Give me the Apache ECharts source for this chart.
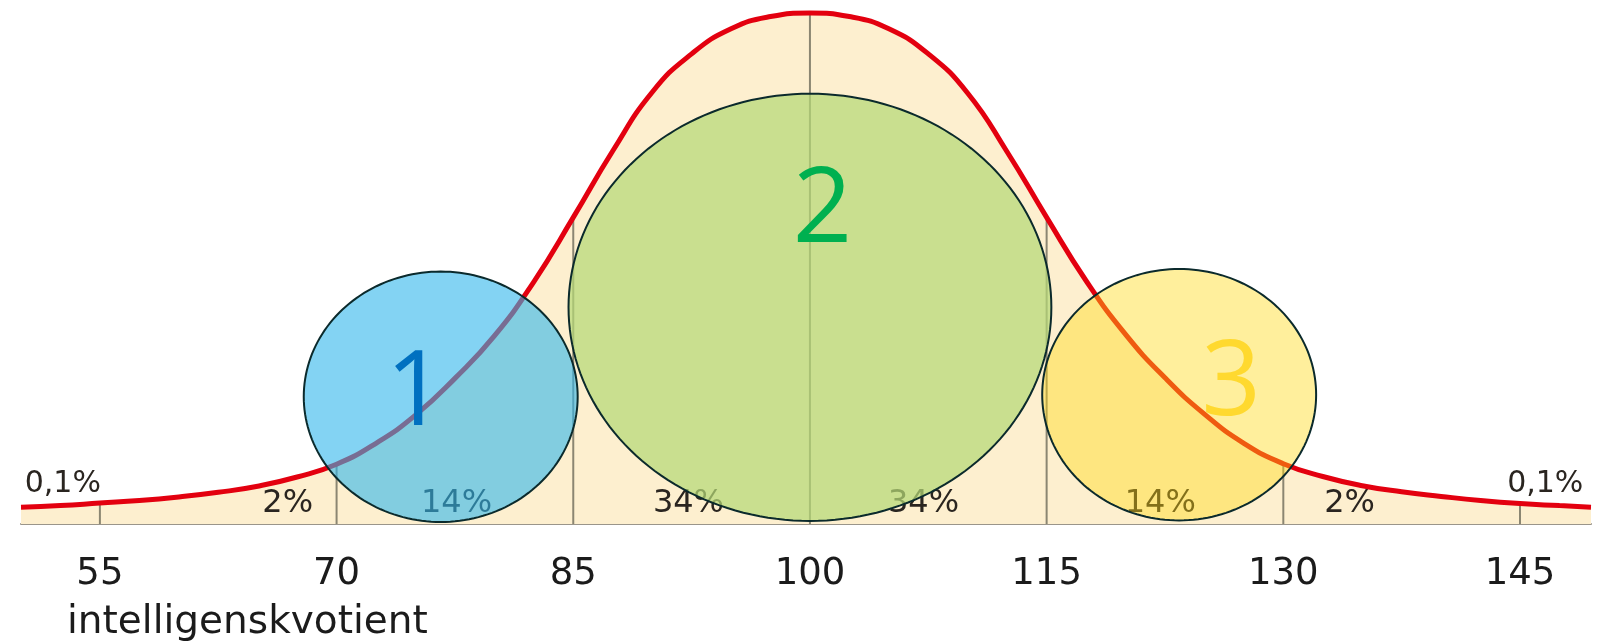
<!DOCTYPE html>
<html>
<head>
<meta charset="utf-8">
<script src="https://cdn.jsdelivr.net/npm/echarts@6/dist/echarts.min.js"></script>
<style>
html,body{margin:0;padding:0;background:#fff;}
#chart{width:1610px;height:641px;}
</style>
</head>
<body>
<div id="chart"></div>
<script>
// IQ values (x) and curve height relative to the peak (%)
const curveX = [50, 52.5, 55, 57.5, 60, 62.5, 65, 67.5, 70, 72.5, 75, 77.5, 80, 82.5, 85, 87.5, 90, 92.5, 95, 97.5, 100,
  102.5, 105, 107.5, 110, 112.5, 115, 117.5, 120, 122.5, 125, 127.5, 130, 132.5, 135, 137.5, 140, 142.5, 145, 147.5, 149.5];
const curveY = [3.3, 3.6, 4.1, 4.6, 5.3, 6.2, 7.4, 9.2, 11.7, 15.8, 21.3, 28.5, 36.8, 47.4, 60.0, 73.0, 84.5, 92.0, 96.9, 99.3, 100,
  99.3, 96.9, 92.0, 84.3, 72.8, 60.0, 47.6, 37.1, 28.6, 21.5, 15.8, 11.8, 9.3, 7.5, 6.3, 5.4, 4.6, 4.0, 3.6, 3.3];

// axis tick labels
const tickValues = [55, 70, 85, 100, 115, 130, 145];

// share of population per band
const bandLabels = ['0,1%', '2%', '14%', '34%', '34%', '14%', '2%', '0,1%'];
const bandLabelX = [52.65, 66.9, 77.6, 92.3, 107.2, 122.2, 134.2, 146.6];
const bandLabelY = [7.8, 3.9, 3.9, 3.9, 3.9, 3.9, 3.9, 7.8];

// highlighted groups (ellipses): centre and radii in data units
const groupNames = ['1', '2', '3'];
const groupCX = [76.6, 100, 123.4];
const groupCY = [24.9, 42.4, 25.3];
const groupRX = [8.68, 15.3, 8.68];
const groupRY = [24.5, 41.8, 24.6];
const groupLabelX = [75.0, 100.8, 126.7];
const groupLabelY = [25.2, 61.0, 27.2];

const axisTitle = 'intelligenskvotient';

// ---- build ----
const curveData = curveX.map((x, i) => [x, curveY[i]]);
function curveAt(x) {
  const i = curveX.indexOf(x);
  return i >= 0 ? curveY[i] : 0;
}
const tickLineData = tickValues.map(v => [v, curveAt(v)]);
const bandData = bandLabels.map((t, i) => [bandLabelX[i], bandLabelY[i], t]);
const groupData = groupNames.map((n, i) => [groupCX[i], groupCY[i], groupRX[i], groupRY[i]]);
const groupLabelData = groupNames.map((n, i) => [groupLabelX[i], groupLabelY[i], n]);

const ellipseFill = ['rgba(48,181,235,0.6)', 'rgba(180,216,118,0.72)', 'rgba(255,218,20,0.42)'];
const numberColor = ['#0070C0', '#00B050', '#FFD92F'];

const chart = echarts.init(document.getElementById('chart'), null, {renderer: 'canvas'});
chart.setOption({
  animation: false,
  backgroundColor: '#ffffff',
  title: {
    text: axisTitle,
    left: 67,
    top: 603,
    padding: 0,
    textStyle: {fontFamily: 'DejaVu Sans', fontSize: 39, fontWeight: 'normal', color: '#1b1b1b'}
  },
  grid: {left: 21, right: 19, top: 13, bottom: 117, outerBoundsMode: 'none'},
  xAxis: {
    type: 'value', min: 50, max: 149.5,
    axisLine: {show: true, onZero: false, lineStyle: {color: '#9a958a', width: 2}},
    axisTick: {show: false},
    splitLine: {show: false},
    axisLabel: {
      customValues: tickValues,
      margin: 32,
      fontFamily: 'DejaVu Sans', fontSize: 37, color: '#1b1b1b'
    }
  },
  yAxis: {type: 'value', min: 0, max: 100, show: false},
  series: [
    {
      type: 'line', data: curveData, smooth: 0.5, symbol: 'none', z: 1,
      lineStyle: {width: 0}, areaStyle: {color: '#FDEFCF', opacity: 1}, silent: true
    },
    {
      type: 'custom', z: 2, data: tickLineData, silent: true,
      renderItem: function (params, api) {
        const p0 = api.coord([api.value(0), 0]);
        const p1 = api.coord([api.value(0), api.value(1)]);
        return {type: 'line', shape: {x1: p0[0], y1: p0[1], x2: p1[0], y2: p1[1]},
          style: {stroke: '#8b8672', lineWidth: 2}};
      }
    },
    {
      type: 'custom', z: 3, data: bandData, silent: true,
      encode: {x: 0, y: 1},
      renderItem: function (params, api) {
        const p = api.coord([api.value(0), api.value(1)]);
        const t = bandLabels[params.dataIndex];
        const small = t === '0,1%';
        return {type: 'text', x: p[0], y: p[1],
          style: {text: t, align: 'center', verticalAlign: 'middle', fill: '#2a2520',
            fontFamily: 'DejaVu Sans', fontSize: small ? 30 : 32}};
      }
    },
    {
      type: 'line', data: curveData, smooth: 0.5, symbol: 'none', z: 4, clip: false,
      lineStyle: {color: '#E3000F', width: 5}, silent: true
    },
    {
      type: 'custom', z: 5, data: groupData, silent: true,
      encode: {x: 0, y: 1},
      renderItem: function (params, api) {
        const cx = api.value(0), cy = api.value(1), rx = api.value(2), ry = api.value(3);
        const pts = [];
        for (let k = 0; k < 180; k++) {
          const a = k / 180 * Math.PI * 2;
          pts.push(api.coord([cx + rx * Math.cos(a), cy + ry * Math.sin(a)]));
        }
        return {type: 'polygon', shape: {points: pts},
          style: {fill: ellipseFill[params.dataIndex], stroke: '#0b2a2c', lineWidth: 2}};
      }
    },
    {
      type: 'custom', z: 6, data: groupLabelData, silent: true,
      encode: {x: 0, y: 1},
      renderItem: function (params, api) {
        const p = api.coord([api.value(0), api.value(1)]);
        return {type: 'text', x: p[0], y: p[1],
          style: {text: groupNames[params.dataIndex], align: 'center', verticalAlign: 'middle',
            fill: numberColor[params.dataIndex], fontFamily: 'Open Sans', fontSize: 104}};
      }
    }
  ]
});
</script>
</body>
</html>
